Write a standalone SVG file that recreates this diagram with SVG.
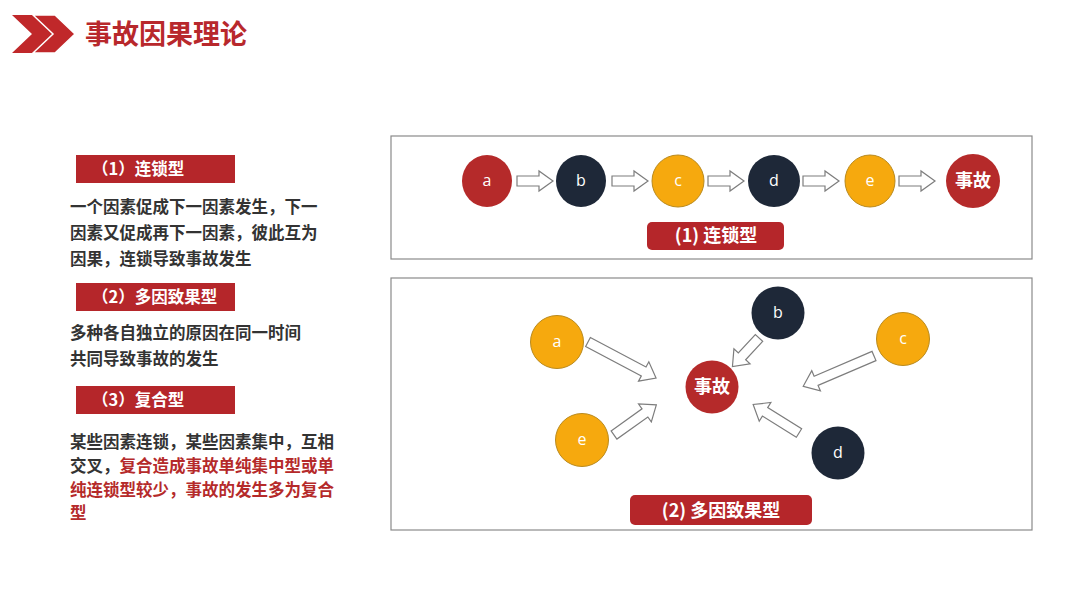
<svg xmlns="http://www.w3.org/2000/svg" width="1080" height="608" viewBox="0 0 1080 608">
<style>
.cn{font-family:"Noto Sans CJK SC","Noto Sans",sans-serif;font-weight:700}
.body{font-size:16.5px;fill:#333}
.red{fill:#b52a2a}
.bar{fill:#b5262a}
.bartxt{font-size:16.5px;fill:#fff}
.box{fill:#fff;stroke:#8a8a8a;stroke-width:1.2}
.r{fill:#b52a2a}
.n{fill:#1e2838}
.o{fill:#f6a90e;stroke:#b98a1e;stroke-width:1}
.lt{font-family:"Open Sans","Noto Sans",sans-serif;font-size:16px;fill:#fff;text-anchor:middle}
.ct{font-size:18px;fill:#fff;text-anchor:middle}
.arr{fill:#fff;stroke:#7d7d7d;stroke-width:1.2;stroke-linejoin:miter}
</style>
<rect width="1080" height="608" fill="#fff"/>
<g id="header">
<path d="M12,15 L34,15 L54,34 L34,53 L12,53 L32,34 Z" fill="#c0282a"/>
<path d="M33,15 L55,15 L75,34 L55,53 L33,53 L53,34 Z" fill="#c0282a" stroke="#fff" stroke-width="1.5"/>
<text x="85" y="44" class="cn" font-size="27" fill="#b8282c">事故因果理论</text>
</g>
<g id="left-1">
<rect x="76" y="155" width="159" height="28" class="bar"/>
<text x="92" y="175" class="cn bartxt">（1）连锁型</text>
<text class="cn body"><tspan x="70" y="213">一个因素促成下一因素发生，下一</tspan><tspan x="70" y="239">因素又促成再下一因素，彼此互为</tspan><tspan x="70" y="265">因果，连锁导致事故发生</tspan></text>
</g>
<g id="left-2">
<rect x="76" y="283" width="159" height="28" class="bar"/>
<text x="92" y="303" class="cn bartxt">（2）多因致果型</text>
<text class="cn body"><tspan x="70" y="339">多种各自独立的原因在同一时间</tspan><tspan x="70" y="365">共同导致事故的发生</tspan></text>
</g>
<g id="left-3">
<rect x="76" y="386" width="159" height="28" class="bar"/>
<text x="92" y="406" class="cn bartxt">（3）复合型</text>
<text class="cn body"><tspan x="70" y="448">某些因素连锁，某些因素集中，互相</tspan><tspan x="70" y="472">交叉，<tspan class="red">复合造成事故单纯集中型或单</tspan></tspan><tspan x="70" y="496" class="red">纯连锁型较少，事故的发生多为复合</tspan><tspan x="70" y="519" class="red">型</tspan></text>
</g>
<g id="panel-1">
<rect x="391" y="136" width="641" height="123" class="box"/>
<rect x="647" y="222" width="137" height="28" rx="5" fill="#b5262a"/>
<text x="716" y="242" class="cn ct">(1) 连锁型</text>
</g>
<g id="panel-2">
<rect x="391" y="278" width="641" height="252" class="box"/>
<rect x="630" y="495" width="182" height="30" rx="5" fill="#b5262a"/>
<text x="721" y="517" class="cn ct">(2) 多因致果型</text>
</g>
<g id="connectors">
<path class="arr" d="M517,176 H539 V171 L553,181 L539,191 V186 H517 Z"/>
<path class="arr" d="M612,176 H634 V171 L648,181 L634,191 V186 H612 Z"/>
<path class="arr" d="M708,176 H730 V171 L744,181 L730,191 V186 H708 Z"/>
<path class="arr" d="M803,176 H825 V171 L839,181 L825,191 V186 H803 Z"/>
<path class="arr" d="M899,176 H921 V171 L935,181 L921,191 V186 H899 Z"/>
<path class="arr" transform="translate(588,342) rotate(27.9)" d="M0,-5 H63 V-11 L77,0 L63,11 V5 H0 Z"/>
<path class="arr" transform="translate(759,338) rotate(132.9)" d="M0,-5 H25 V-11 L39,0 L25,11 V5 H0 Z"/>
<path class="arr" transform="translate(874,356) rotate(156.8)" d="M0,-5 H63 V-11 L77,0 L63,11 V5 H0 Z"/>
<path class="arr" transform="translate(799,433) rotate(211.9)" d="M0,-5 H40 V-11 L54,0 L40,11 V5 H0 Z"/>
<path class="arr" transform="translate(614,435) rotate(-35.5)" d="M0,-5 H38 V-11 L52,0 L38,11 V5 H0 Z"/>
</g>
<g id="chain-a"><ellipse cx="487" cy="181" rx="25" ry="26" class="r"/><text x="487" y="186" class="lt">a</text></g>
<g id="chain-b"><ellipse cx="581" cy="181" rx="25" ry="26" class="n"/><text x="581" y="186" class="lt">b</text></g>
<g id="chain-c"><ellipse cx="678" cy="181" rx="26" ry="26" class="o"/><text x="678" y="186" class="lt">c</text></g>
<g id="chain-d"><ellipse cx="774" cy="181" rx="26" ry="26" class="n"/><text x="774" y="186" class="lt">d</text></g>
<g id="chain-e"><ellipse cx="870" cy="181" rx="25" ry="26" class="o"/><text x="870" y="186" class="lt">e</text></g>
<g id="chain-accident"><ellipse cx="973" cy="181" rx="27" ry="27" class="r"/><text x="973" y="187" class="cn ct">事故</text></g>
<g id="multi-a"><circle cx="557" cy="342" r="26.5" class="o"/><text x="557" y="347" class="lt">a</text></g>
<g id="multi-b"><circle cx="778" cy="313" r="26.5" class="n"/><text x="778" y="318" class="lt">b</text></g>
<g id="multi-c"><circle cx="903" cy="339" r="26.5" class="o"/><text x="903" y="344" class="lt">c</text></g>
<g id="multi-d"><circle cx="838" cy="453" r="26.5" class="n"/><text x="838" y="458" class="lt">d</text></g>
<g id="multi-e"><circle cx="582" cy="440" r="26.5" class="o"/><text x="582" y="445" class="lt">e</text></g>
<g id="multi-accident"><circle cx="712" cy="387" r="26.5" class="r"/><text x="712" y="393" class="cn ct">事故</text></g>
</svg>
